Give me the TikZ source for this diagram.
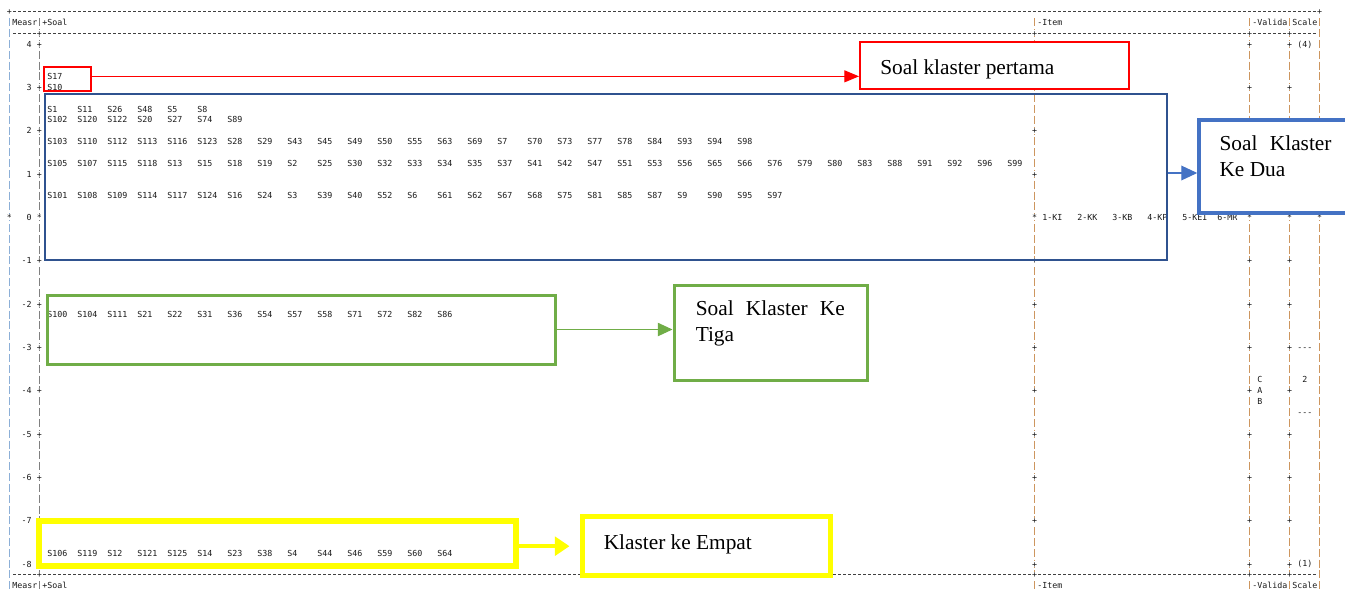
\documentclass[tikz,border=0pt]{standalone}
\usepackage{fontspec}
\setmainfont{Liberation Serif}
\setmonofont{DejaVu Sans Mono}
\usetikzlibrary{arrows.meta,fit,positioning}

\definecolor{klred}{RGB}{255,0,0}
\definecolor{klnavy}{RGB}{47,82,143}
\definecolor{klblue}{RGB}{68,114,196}
\definecolor{klgreen}{RGB}{112,173,71}
\definecolor{klyellow}{RGB}{255,255,0}
\definecolor{ruletan}{RGB}{205,150,95}
\definecolor{ruleblue}{RGB}{140,175,215}

\begin{document}
\begin{tikzpicture}[x=0.75pt,y=-0.75pt,
	mono/.style={font=\ttfamily\fontsize{6.23}{7.5}\selectfont,text=black!90,inner sep=0pt,text height=4.55pt,text depth=0pt},
	item/.style={mono,anchor=west},
	tick/.style={mono,fill=white},
	rule/.style={dash pattern=on 6pt off 2.12pt,line width=0.6pt},
	hrule/.style={black!75,dash pattern=on 2pt off 1.75pt,line width=0.5pt},
	frame/.style={draw,inner sep=0pt},
	callout/.style={font=\rmfamily\fontsize{16}{19}\selectfont,inner sep=0pt}]
	\useasboundingbox (0,0) rectangle (1345,594);

	% wright map lines
	\foreach \y in {11.5,33.2,574.7}
		\draw[hrule] (13.2,\y) -- (1315.8,\y);
	\draw[rule,ruleblue] (9.5,18.3) -- (9.5,589.5);
	\draw[rule,gray] (39.5,18.3) -- (39.5,589.5);
	\foreach \x in {1034.5,1249.5,1289.5,1319.5}
		\draw[rule,ruletan] (\x,18.3) -- (\x,589.5);

	\foreach \c/\x/\ks in {a/39.5/{0,...,12},b/1034.5/{0,...,12},c/1249.5/{0,1,4,5,6,7,8,9,10,11,12},d/1289.5/{0,1,4,5,6,7,8,9,10,11,12}} {
		\foreach \k in \ks
			\node[tick] (\c\k) at (\x,{44+43.33*\k}) {\ifnum\k=4 *\else +\fi};
		\node[tick] (\c-top) at (\x,33.2) {+};
		\node[tick] (\c-bot) at (\x,574.7) {+};
	}
	\node[tick] (l-top) at (9.5,11.5) {+};
	\node[tick] (r-top) at (1319.5,11.5) {+};
	\node[tick] (l0) at (9.5,217.3) {*};
	\node[tick] (r0) at (1319.5,217.3) {*};

	% headers
	\foreach \y/\n in {22.3/top,585.5/bot} {
		\node[item] (measr-\n) at (12,\y) {Measr};
		\node[item] (soal-\n) at (42,\y) {+Soal};
		\node[item] (item-\n) at (1037,\y) {-Item};
		\node[item] (valida-\n) at (1252,\y) {-Valida};
		\node[item] (scale-\n) at (1292,\y) {Scale};
	}

	\foreach \v [count=\k from 0] in {4,3,2,1,0,-1,-2,-3,-4,-5,-6,-7,-8}
		\node[mono,anchor=east] (m\k) at (32,{44+43.33*\k}) {\v};

	% soal
	\foreach \k/\items in {3/{S17},4/{S10},
		6/{S1,S11,S26,S48,S5,S8},
		7/{S102,S120,S122,S20,S27,S74,S89},
		9/{S103,S110,S112,S113,S116,S123,S28,S29,S43,S45,S49,S50,S55,S63,S69,S7,S70,S73,S77,S78,S84,S93,S94,S98},
		11/{S105,S107,S115,S118,S13,S15,S18,S19,S2,S25,S30,S32,S33,S34,S35,S37,S41,S42,S47,S51,S53,S56,S65,S66,S76,S79,S80,S83,S88,S91,S92,S96,S99},
		14/{S101,S108,S109,S114,S117,S124,S16,S24,S3,S39,S40,S52,S6,S61,S62,S67,S68,S75,S81,S85,S87,S9,S90,S95,S97},
		25/{S100,S104,S111,S21,S22,S31,S36,S54,S57,S58,S71,S72,S82,S86},
		47/{S106,S119,S12,S121,S125,S14,S23,S38,S4,S44,S46,S59,S60,S64}}
		\foreach \s [count=\i from 0] in \items
			\node[item] (s\k-\i) at ({47+30*\i},{44+10.83*\k}) {\s};

	% item, valida, scale
	\foreach \t [count=\i from 0] in {1-KI,2-KK,3-KB,4-KP,5-KEI,6-MR}
		\node[item] (it\i) at ({1042+35*\i},217.3) {\t};
	\foreach \t [count=\i from 0] in {C,A,B}
		\node[item] (v\i) at (1257,{379.7+10.83*\i}) {\t};
	\node[item] (sc4) at (1297,44) {(4)};
	\node[item] (scd1) at (1297,347.3) {---};
	\node[item] (sc2) at (1302,379.7) {2};
	\node[item] (scd2) at (1297,412.3) {---};
	\node[item] (sc1) at (1297,563.8) {(1)};

	% klaster boxes
	\node[frame,draw=klred,line width=1.5pt,fit={(44,67) (91,91)}] (k1) {};
	\node[frame,draw=klnavy,line width=2pt,fit={(45,94) (1167,260)}] (k2) {};
	\node[frame,draw=klgreen,line width=2.25pt,fit={(47,295) (555,364)}] (k3) {};
	\node[frame,draw=klyellow,line width=4.5pt,fit={(39,521) (516,566)}] (k4) {};

	\node[frame,fill=white,draw=klred,line width=1.5pt,fit={(860,42) (1129,89)}] (c1) {};
	\node[frame,fill=white,draw=klblue,line width=2.6pt,fit={(1199,120) (1365,213)}] (c2) {};
	\node[frame,fill=white,draw=klgreen,line width=2.25pt,fit={(674,285) (867,380)}] (c3) {};
	\node[frame,fill=white,draw=klyellow,line width=3.75pt,fit={(582,516) (830,575)}] (c4) {};

	\node[callout,below right=13.5pt and 15.75pt of c1.north west] (c1t) {Soal klaster pertama};
	\node[callout,below right=13pt and 16.5pt of c2.north west,text width=84pt,align=justify] (c2t) {Soal\hfill Klaster\\Ke Dua};
	\node[callout,below right=13pt and 17.25pt of c3.north west,text width=111.75pt,align=justify] (c3t) {Soal\hfill Klaster\hfill Ke\\Tiga};
	\node[callout,below right=16pt and 18pt of c4.north west] (c4t) {Klaster ke Empat};

	\draw[klred,line width=0.8pt,-{Triangle[length=11pt,width=9pt]}] ([yshift=2pt]k1.east) -- ([yshift=2pt]k1.east -| c1.west);
	\draw[klblue,line width=1pt,-{Triangle[length=12pt,width=11pt]}] ([yshift=3pt]k2.east) -- ([yshift=3pt]k2.east -| c2.west);
	\draw[klgreen,line width=0.8pt,-{Triangle[length=11pt,width=10pt]}] (k3.east) -- (k3.east -| c3.west);
	\draw[klyellow,line width=3pt,-{Triangle[length=11pt,width=14pt]},shorten >=7.5pt] ([yshift=-2pt]k4.east) -- ([yshift=-2pt]k4.east -| c4.west);
\end{tikzpicture}
\end{document}
